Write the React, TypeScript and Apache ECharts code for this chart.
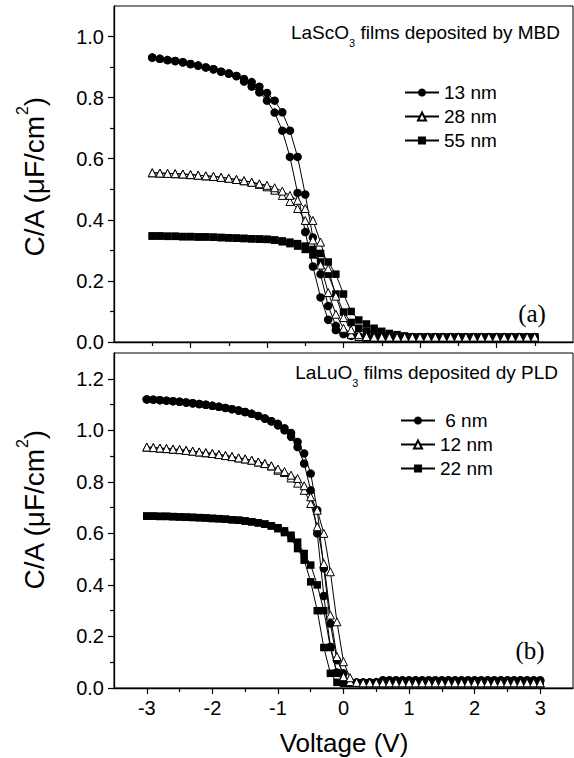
import React, { useEffect, useRef } from "react";
import * as echarts from "echarts";

// ---------- sampling grids (voltage, V) ----------
const topVoltage: number[] = Array.from({ length: 51 }, (_, i) => +(-3 + 0.12 * i).toFixed(2));
const bottomVoltage: number[] = Array.from({ length: 61 }, (_, i) => +(-3 + 0.1 * i).toFixed(2));

// ---------- panel (a): LaScO3 films by MBD (µF/cm²) ----------
const a13Flat = [0.931, 0.927, 0.923, 0.92, 0.916, 0.91, 0.905, 0.899, 0.893, 0.885, 0.879, 0.871];
const a13Down = [0.853, 0.836, 0.817, 0.79, 0.751, 0.692, 0.606, 0.488, 0.36, 0.247, 0.146, 0.073, 0.039, 0.026, 0.02, 0.017];
const a13Up = [0.861, 0.851, 0.836, 0.815, 0.79, 0.752, 0.692, 0.606, 0.483, 0.342, 0.222, 0.118, 0.053, 0.032, 0.024, 0.019];
const a13TailDown = [0.015, 0.015, 0.015, 0.015, 0.015, 0.015, 0.015, 0.015, 0.015, 0.015, 0.015, 0.015, 0.015, 0.015, 0.015, 0.015, 0.015, 0.015, 0.015, 0.015, 0.015, 0.015, 0.015];
const a13TailUp = [0.016, 0.016, 0.016, 0.016, 0.016, 0.016, 0.016, 0.016, 0.016, 0.016, 0.016, 0.016, 0.016, 0.016, 0.016, 0.016, 0.016, 0.016, 0.016, 0.016, 0.016, 0.016, 0.016];

const a28Flat = [0.554, 0.553, 0.552, 0.551, 0.55, 0.548, 0.546, 0.544, 0.542, 0.539, 0.536, 0.532, 0.528, 0.523];
const a28Down = [0.516, 0.508, 0.497, 0.48, 0.46, 0.437, 0.398, 0.334, 0.252, 0.162, 0.091, 0.045, 0.025, 0.018, 0.016];
const a28Up = [0.518, 0.513, 0.505, 0.494, 0.48, 0.464, 0.437, 0.398, 0.327, 0.24, 0.15, 0.08, 0.04, 0.024, 0.018];
const a28TailDown = [0.015, 0.015, 0.015, 0.015, 0.015, 0.015, 0.015, 0.015, 0.015, 0.015, 0.015, 0.015, 0.015, 0.015, 0.015, 0.015, 0.015, 0.015, 0.015, 0.015, 0.015, 0.015];
const a28TailUp = [0.016, 0.016, 0.016, 0.016, 0.016, 0.016, 0.016, 0.016, 0.016, 0.016, 0.016, 0.016, 0.016, 0.016, 0.016, 0.016, 0.016, 0.016, 0.016, 0.016, 0.016, 0.016];

const a55Flat = [0.347, 0.347, 0.346, 0.346, 0.345, 0.345, 0.344, 0.344, 0.343, 0.342, 0.341, 0.34, 0.339, 0.338, 0.337, 0.336];
const a55Down = [0.333, 0.328, 0.322, 0.314, 0.303, 0.285, 0.262, 0.222, 0.157, 0.098, 0.064, 0.045, 0.035, 0.028, 0.024, 0.02, 0.018, 0.016];
const a55Up = [0.334, 0.331, 0.327, 0.322, 0.314, 0.303, 0.29, 0.262, 0.222, 0.157, 0.1, 0.072, 0.059, 0.045, 0.035, 0.028, 0.024, 0.02];
const a55TailDown = [0.014, 0.014, 0.014, 0.014, 0.014, 0.014, 0.014, 0.014, 0.014, 0.014, 0.014, 0.014, 0.014, 0.014, 0.014, 0.014, 0.014];
const a55TailUp = [0.017, 0.017, 0.017, 0.017, 0.017, 0.017, 0.017, 0.017, 0.017, 0.017, 0.017, 0.017, 0.017, 0.017, 0.017, 0.017, 0.017];

// ---------- panel (b): LaLuO3 films by PLD (µF/cm²) ----------
const b6Flat = [1.12, 1.119, 1.117, 1.115, 1.113, 1.111, 1.108, 1.105, 1.102, 1.099, 1.095, 1.091, 1.087, 1.082, 1.077, 1.071, 1.064, 1.056, 1.046, 1.035];
const b6Down = [1.019, 1.0, 0.975, 0.935, 0.871, 0.767, 0.6, 0.357, 0.16, 0.06, 0.025, 0.02, 0.02, 0.02, 0.021, 0.021];
const b6Up = [1.025, 1.008, 0.99, 0.955, 0.91, 0.832, 0.69, 0.464, 0.25, 0.108, 0.057, 0.025, 0.022, 0.022, 0.022, 0.023];
const b6TailDown = [0.028, 0.028, 0.028, 0.028, 0.028, 0.028, 0.028, 0.028, 0.028, 0.028, 0.028, 0.028, 0.028, 0.028, 0.028, 0.028, 0.028, 0.028, 0.028, 0.028, 0.028, 0.028, 0.028, 0.028, 0.028];
const b6TailUp = [0.03, 0.03, 0.03, 0.03, 0.03, 0.03, 0.03, 0.03, 0.03, 0.03, 0.03, 0.03, 0.03, 0.03, 0.03, 0.03, 0.03, 0.03, 0.03, 0.03, 0.03, 0.03, 0.03, 0.03, 0.03];

const b12Flat = [0.935, 0.933, 0.931, 0.929, 0.927, 0.925, 0.922, 0.919, 0.916, 0.913, 0.91, 0.906, 0.902, 0.898, 0.893, 0.889, 0.884, 0.877, 0.871, 0.862];
const b12Down = [0.845, 0.836, 0.815, 0.795, 0.767, 0.716, 0.626, 0.483, 0.283, 0.122, 0.044, 0.025, 0.021];
const b12Up = [0.85, 0.84, 0.826, 0.813, 0.785, 0.742, 0.69, 0.6, 0.451, 0.257, 0.102, 0.04, 0.022];
const b12Tail = [0.02, 0.02, 0.02, 0.02, 0.02, 0.02, 0.02, 0.02, 0.02, 0.02, 0.02, 0.02, 0.02, 0.02, 0.02, 0.02, 0.02, 0.02, 0.02, 0.02, 0.02, 0.02, 0.02, 0.02, 0.02, 0.02, 0.02, 0.02];

const b22Flat = [0.667, 0.667, 0.666, 0.666, 0.665, 0.664, 0.663, 0.662, 0.661, 0.66, 0.658, 0.657, 0.655, 0.653, 0.651, 0.648, 0.645, 0.641, 0.636, 0.629];
const b22Down = [0.618, 0.603, 0.58, 0.541, 0.496, 0.412, 0.3, 0.157, 0.057, 0.022, 0.018];
const b22Up = [0.622, 0.61, 0.593, 0.566, 0.522, 0.477, 0.4, 0.3, 0.157, 0.057, 0.022];
const b22Tail = [0.018, 0.018, 0.018, 0.018, 0.018, 0.018, 0.018, 0.018, 0.018, 0.018, 0.018, 0.018, 0.018, 0.018, 0.018, 0.018, 0.018, 0.018, 0.018, 0.018, 0.018, 0.018, 0.018, 0.018, 0.018, 0.018, 0.018, 0.018, 0.018, 0.018];

// ---------- ticks ----------
const topXMajor = [-2.4, -1.2, 0, 1.2, 2.4];
const topXMinor = [-3, -1.8, -0.6, 0.6, 1.8, 3];
const bottomXMajor = [-3, -2, -1, 0, 1, 2, 3];
const bottomXMinor = [-2.5, -1.5, -0.5, 0.5, 1.5, 2.5];
const topYMajor = [0, 0.2, 0.4, 0.6, 0.8, 1.0];
const topYMinor = [0.1, 0.3, 0.5, 0.7, 0.9];
const bottomYMajor = [0, 0.2, 0.4, 0.6, 0.8, 1.0, 1.2];
const bottomYMinor = [0.1, 0.3, 0.5, 0.7, 0.9, 1.1];

const topLegend = ["13 nm", "28 nm", "55 nm"];
const bottomLegend = [" 6 nm", "12 nm", "22 nm"];

const SANS = "Liberation Sans";
const SERIF = "Liberation Serif";

function series(name: string, xs: number[], ys: number[], symbol: string, size: number, axis: number, filled: boolean) {
  return {
    type: "line",
    name,
    xAxisIndex: axis,
    yAxisIndex: axis,
    data: xs.map((x, i) => [x, ys[i]]),
    symbol,
    symbolSize: size,
    showSymbol: true,
    showAllSymbol: true,
    lineStyle: { color: "#000", width: 1 },
    itemStyle: filled ? { color: "#000" } : { color: "#fff", borderColor: "#000", borderWidth: 1 },
    emphasis: { disabled: true },
    silent: true,
  };
}

function majorX(grid: number, min: number, max: number, major: number[], labels: boolean) {
  return {
    type: "value",
    gridIndex: grid,
    min,
    max,
    position: "bottom",
    axisLine: { show: true, onZero: false, lineStyle: { color: "#000", width: 1.3 } },
    axisTick: { show: true, customValues: major, length: 6, lineStyle: { color: "#000", width: 1.2 } },
    axisLabel: labels
      ? { show: true, customValues: major, fontSize: 20, color: "#000", fontFamily: SANS, margin: 10, formatter: (v: number) => String(v) }
      : { show: false },
    splitLine: { show: false },
  };
}
function minorX(grid: number, min: number, max: number, minor: number[]) {
  return {
    type: "value",
    gridIndex: grid,
    min,
    max,
    position: "bottom",
    axisLine: { show: false, onZero: false },
    axisTick: { show: true, customValues: minor, length: 4, lineStyle: { color: "#000", width: 1.2 } },
    axisLabel: { show: false },
    splitLine: { show: false },
  };
}
function majorY(grid: number, max: number, major: number[]) {
  return {
    type: "value",
    gridIndex: grid,
    min: 0,
    max,
    position: "left",
    axisLine: { show: true, onZero: false, lineStyle: { color: "#000", width: 1.3 } },
    axisTick: { show: true, customValues: major, length: 6, lineStyle: { color: "#000", width: 1.2 } },
    axisLabel: { show: true, customValues: major, fontSize: 20, color: "#000", fontFamily: SANS, margin: 10, formatter: (v: number) => v.toFixed(1) },
    splitLine: { show: false },
  };
}
function minorY(grid: number, max: number, minor: number[]) {
  return {
    type: "value",
    gridIndex: grid,
    min: 0,
    max,
    position: "left",
    axisLine: { show: false, onZero: false },
    axisTick: { show: true, customValues: minor, length: 4, lineStyle: { color: "#000", width: 1.2 } },
    axisLabel: { show: false },
    splitLine: { show: false },
  };
}

function yTitle(x: number, y: number) {
  return {
    type: "text",
    x,
    y,
    rotation: Math.PI / 2,
    style: {
      text: "{a|C/A (μF/cm}{b|2}{a|)}",
      align: "center",
      verticalAlign: "middle",
      fill: "#000",
      rich: {
        a: { fontSize: 28, fontFamily: SANS, lineHeight: 34, verticalAlign: "bottom", fill: "#000" },
        b: { fontSize: 16, fontFamily: SANS, lineHeight: 16, verticalAlign: "top", fill: "#000" },
      },
    },
  };
}
function panelTitle(x: number, y: number, pre: string, post: string) {
  return {
    type: "text",
    x,
    y,
    style: {
      text: `{a|${pre}}{s|3}{a|${post}}`,
      align: "right",
      verticalAlign: "top",
      fill: "#000",
      rich: {
        a: { fontSize: 19, fontFamily: SANS, lineHeight: 20, verticalAlign: "top", fill: "#000" },
        s: { fontSize: 11, fontFamily: SANS, lineHeight: 25, verticalAlign: "bottom", fill: "#000" },
      },
    },
  };
}

export default function App() {
  const ref = useRef<HTMLDivElement>(null);
  useEffect(() => {
    document.body.style.margin = "0";
    const chart = echarts.init(ref.current!, undefined, { renderer: "svg" });

    const c13d = [...a13Flat, ...a13Down, ...a13TailDown];
    const c13u = [...a13Flat, ...a13Up, ...a13TailUp];
    const c28d = [...a28Flat, ...a28Down, ...a28TailDown];
    const c28u = [...a28Flat, ...a28Up, ...a28TailUp];
    const c55d = [...a55Flat, ...a55Down, ...a55TailDown];
    const c55u = [...a55Flat, ...a55Up, ...a55TailUp];
    const d6d = [...b6Flat, ...b6Down, ...b6TailDown];
    const d6u = [...b6Flat, ...b6Up, ...b6TailUp];
    const d12d = [...b12Flat, ...b12Down, ...b12Tail];
    const d12u = [...b12Flat, ...b12Up, ...b12Tail];
    const d22d = [...b22Flat, ...b22Down, ...b22Tail];
    const d22u = [...b22Flat, ...b22Up, ...b22Tail];

    const legendCommon = {
      orient: "vertical",
      selectedMode: false,
      itemWidth: 34,
      itemHeight: 10,
      itemGap: 5,
      textStyle: { fontSize: 19, color: "#000", fontFamily: SANS, lineHeight: 19 },
    };

    chart.setOption({
      animation: false,
      backgroundColor: "#fff",
      grid: [
        { left: 114, top: 6, width: 459, height: 336, show: true, borderColor: "#000", borderWidth: 1, backgroundColor: "transparent" },
        { left: 114, top: 353, width: 459, height: 335, show: true, borderColor: "#000", borderWidth: 1, backgroundColor: "transparent" },
      ],
      xAxis: [
        majorX(0, -3.6, 3.6, topXMajor, false),
        minorX(0, -3.6, 3.6, topXMinor),
        majorX(1, -3.5, 3.5, bottomXMajor, true),
        minorX(1, -3.5, 3.5, bottomXMinor),
      ],
      yAxis: [majorY(0, 1.1, topYMajor), minorY(0, 1.1, topYMinor), majorY(1, 1.3, bottomYMajor), minorY(1, 1.3, bottomYMinor)],
      legend: [
        { ...legendCommon, data: topLegend, left: 399, top: 78 },
        { ...legendCommon, data: bottomLegend, left: 395, top: 406 },
      ],
      series: [
        series(topLegend[0], topVoltage, c13d, "circle", 8.5, 0, true),
        series(topLegend[0], topVoltage, c13u, "circle", 8.5, 0, true),
        series(topLegend[2], topVoltage, c55d, "rect", 7.5, 0, true),
        series(topLegend[2], topVoltage, c55u, "rect", 7.5, 0, true),
        series(topLegend[1], topVoltage, c28d, "triangle", 8, 0, false),
        series(topLegend[1], topVoltage, c28u, "triangle", 8, 0, false),
        series(bottomLegend[0], bottomVoltage, d6d, "circle", 8.5, 2, true),
        series(bottomLegend[0], bottomVoltage, d6u, "circle", 8.5, 2, true),
        series(bottomLegend[2], bottomVoltage, d22d, "rect", 7.5, 2, true),
        series(bottomLegend[2], bottomVoltage, d22u, "rect", 7.5, 2, true),
        series(bottomLegend[1], bottomVoltage, d12d, "triangle", 8, 2, false),
        series(bottomLegend[1], bottomVoltage, d12u, "triangle", 8, 2, false),
      ],
      graphic: [
        panelTitle(560, 23, "LaScO", " films deposited by MBD"),
        panelTitle(558, 363, "LaLuO", " films deposited dy PLD"),
        { type: "text", x: 532, y: 313, style: { text: "(a)", fontSize: 25, fontFamily: SERIF, fill: "#000", align: "center", verticalAlign: "middle" } },
        { type: "text", x: 530, y: 650, style: { text: "(b)", fontSize: 25, fontFamily: SERIF, fill: "#000", align: "center", verticalAlign: "middle" } },
        yTitle(31, 177),
        yTitle(31, 510),
        { type: "text", x: 344, y: 743, style: { text: "Voltage (V)", fontSize: 26, fontFamily: SANS, fill: "#000", align: "center", verticalAlign: "middle" } },
      ],
    });
    return () => chart.dispose();
  }, []);
  return <div ref={ref} style={{ position: "fixed", left: 0, top: 0, width: 574, height: 758, background: "#fff" }} />;
}
